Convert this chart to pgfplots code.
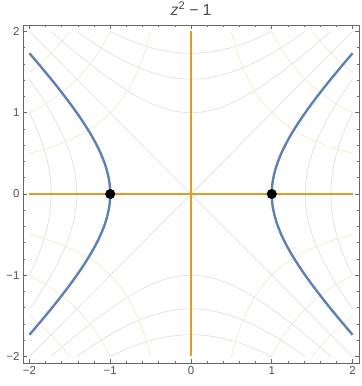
\documentclass[border=0pt]{standalone}
\usepackage{fontspec}
\setmainfont{Liberation Sans}
\usepackage{pgfplots}
\usepackage{pgfplotstable}
\pgfplotsset{compat=1.18}
\definecolor{mblue}{RGB}{94,129,181}
\definecolor{morange}{RGB}{225,156,36}
\definecolor{meshgray}{RGB}{224,224,224}
\definecolor{meshorange}{RGB}{245,232,206}
\definecolor{framegray}{RGB}{105,105,105}
\definecolor{labelgray}{RGB}{80,80,80}

% b = sqrt(1+a^2)
\pgfplotstableread{
a b
-1.7321 2.0
-1.625 1.9081
-1.5 1.8028
-1.375 1.7002
-1.25 1.6008
-1.125 1.5052
-1.0 1.4142
-0.875 1.3288
-0.75 1.25
-0.625 1.1792
-0.5 1.1180
-0.375 1.0680
-0.25 1.0308
-0.125 1.0078
0 1.0
0.125 1.0078
0.25 1.0308
0.375 1.0680
0.5 1.1180
0.625 1.1792
0.75 1.25
0.875 1.3288
1.0 1.4142
1.125 1.5052
1.25 1.6008
1.375 1.7002
1.5 1.8028
1.625 1.9081
1.7321 2.0
}\tabA
% b = sqrt(2+a^2)
\pgfplotstableread{
a b
-1.4142 2.0
-1.25 1.8875
-1.125 1.8071
-1.0 1.7321
-0.875 1.6630
-0.75 1.6008
-0.625 1.5462
-0.5 1.5
-0.375 1.4631
-0.25 1.4361
-0.125 1.4197
0 1.4142
0.125 1.4197
0.25 1.4361
0.375 1.4631
0.5 1.5
0.625 1.5462
0.75 1.6008
0.875 1.6630
1.0 1.7321
1.125 1.8071
1.25 1.8875
1.4142 2.0
}\tabB
% b = sqrt(3+a^2)
\pgfplotstableread{
a b
-1.0 2.0
-0.875 1.9405
-0.75 1.8875
-0.625 1.8414
-0.5 1.8028
-0.375 1.7722
-0.25 1.75
-0.125 1.7366
0 1.7321
0.125 1.7366
0.25 1.75
0.375 1.7722
0.5 1.8028
0.625 1.8414
0.75 1.8875
0.875 1.9405
1.0 2.0
}\tabC
% xy = 1
\pgfplotstableread{
x y
0.5 2.0
0.55 1.8182
0.6 1.6667
0.7 1.4286
0.8 1.25
0.9 1.1111
1.0 1.0
1.1111 0.9
1.25 0.8
1.4286 0.7
1.6667 0.6
1.8182 0.55
2.0 0.5
}\tabIa
% xy = 2
\pgfplotstableread{
x y
1.0 2.0
1.1 1.8182
1.2 1.6667
1.3333 1.5
1.4142 1.4142
1.5 1.3333
1.6667 1.2
1.8182 1.1
2.0 1.0
}\tabIb
% xy = 3
\pgfplotstableread{
x y
1.5 2.0
1.6 1.875
1.7321 1.7321
1.875 1.6
2.0 1.5
}\tabIc

\begin{document}
\begin{tikzpicture}
\begin{axis}[name=ax, width=336bp, height=338bp, scale only axis,
  xmin=-2.08, xmax=2.08, ymin=-2.08, ymax=2.08,
  axis line style={framegray, line width=0.7bp},
  xtick={-2,-1,0,1,2}, xticklabels={−2,−1,0,1,2},
  ytick={-2,-1,0,1,2}, yticklabels={−2,−1,0,1,2},
  minor tick num=4,
  tick align=inside,
  major tick length=4.5bp, minor tick length=2.5bp,
  every tick/.style={framegray, line width=0.6bp},
  ticklabel style={font=\fontsize{11.5}{13}\selectfont, text=labelgray},
  title={\textit{z}\textsuperscript{2}\kern4bp−\kern4bp1},
  title style={font=\fontsize{16}{18}\selectfont, text=labelgray,
    at={(rel axis cs:0.5,1)}, anchor=base, yshift=3.5bp},
  meshl/.style={line width=0.7bp, smooth},
]
% mesh: Re contours (gray)
\addplot[meshgray, line width=0.7bp] coordinates {(-2,-2) (2,2)};
\addplot[meshgray, line width=0.7bp] coordinates {(-2,2) (2,-2)};
\addplot[meshgray, meshl] table[x=a, y=b] {\tabA};
\addplot[meshgray, meshl] table[x=a, y expr=-\thisrow{b}] {\tabA};
\addplot[meshgray, meshl] table[x=a, y=b] {\tabB};
\addplot[meshgray, meshl] table[x=a, y expr=-\thisrow{b}] {\tabB};
\addplot[meshgray, meshl] table[x=b, y=a] {\tabB};
\addplot[meshgray, meshl] table[x expr=-\thisrow{b}, y=a] {\tabB};
\addplot[meshgray, meshl] table[x=a, y=b] {\tabC};
\addplot[meshgray, meshl] table[x=a, y expr=-\thisrow{b}] {\tabC};
\addplot[meshgray, meshl] table[x=b, y=a] {\tabC};
\addplot[meshgray, meshl] table[x expr=-\thisrow{b}, y=a] {\tabC};
% mesh: Im contours (light orange)
\addplot[meshorange, meshl] table[x=x, y=y] {\tabIa};
\addplot[meshorange, meshl] table[x expr=-\thisrow{x}, y=y] {\tabIa};
\addplot[meshorange, meshl] table[x=x, y expr=-\thisrow{y}] {\tabIa};
\addplot[meshorange, meshl] table[x expr=-\thisrow{x}, y expr=-\thisrow{y}] {\tabIa};
\addplot[meshorange, meshl] table[x=x, y=y] {\tabIb};
\addplot[meshorange, meshl] table[x expr=-\thisrow{x}, y=y] {\tabIb};
\addplot[meshorange, meshl] table[x=x, y expr=-\thisrow{y}] {\tabIb};
\addplot[meshorange, meshl] table[x expr=-\thisrow{x}, y expr=-\thisrow{y}] {\tabIb};
\addplot[meshorange, meshl] table[x=x, y=y] {\tabIc};
\addplot[meshorange, meshl] table[x expr=-\thisrow{x}, y=y] {\tabIc};
\addplot[meshorange, meshl] table[x=x, y expr=-\thisrow{y}] {\tabIc};
\addplot[meshorange, meshl] table[x expr=-\thisrow{x}, y expr=-\thisrow{y}] {\tabIc};
% Re = 0 (blue hyperbola)
\addplot[mblue, line width=2.4bp, smooth] table[x=b, y=a] {\tabA};
\addplot[mblue, line width=2.4bp, smooth] table[x expr=-\thisrow{b}, y=a] {\tabA};
% Im = 0 (orange axes)
\addplot[morange, line width=2.4bp] coordinates {(-2,0) (2,0)};
\addplot[morange, line width=2.4bp] coordinates {(0,-2) (0,2)};
% zeros
\addplot[only marks, mark=*, mark size=4.8bp, black] coordinates {(-1,0) (1,0)};
\end{axis}
\pgfresetboundingbox
\path ([xshift=-23bp,yshift=-23bp]ax.south west) rectangle ([xshift=3bp,yshift=25bp]ax.north east);
\end{tikzpicture}
\end{document}
